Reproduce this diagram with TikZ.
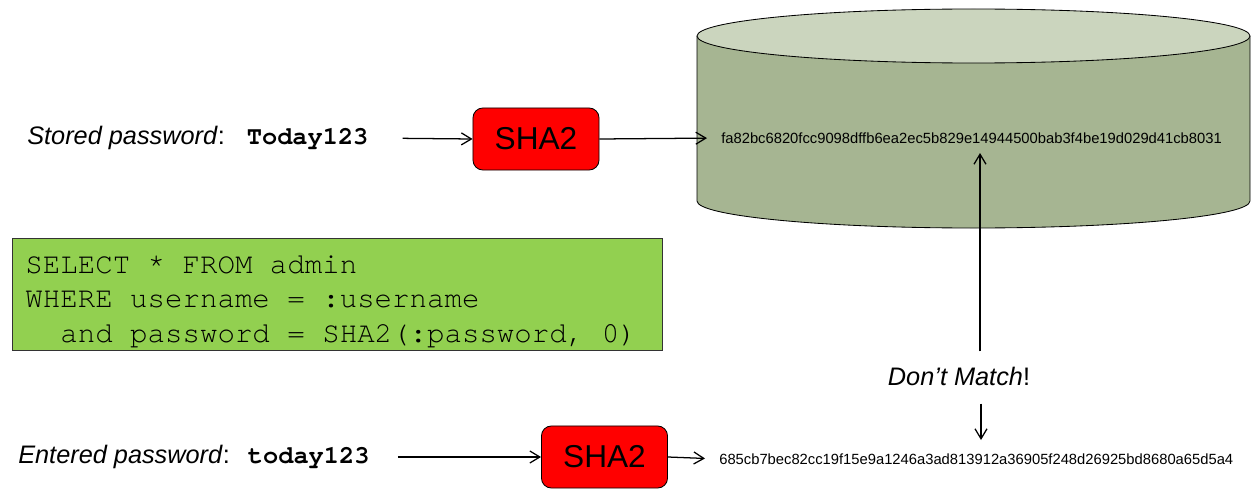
\documentclass[tikz,border=0pt]{standalone}
\usepackage{fontspec}
\setmainfont{Liberation Sans}
\setmonofont{TeX Gyre Cursor}
\usetikzlibrary{arrows.meta}
\definecolor{dbbody}{RGB}{166,181,146}
\definecolor{dbtop}{RGB}{203,213,190}
\definecolor{sqlgreen}{RGB}{146,208,80}
\definecolor{shared}{RGB}{255,0,0}
\newcommand\sqlfont{\ttfamily\fontsize{20.7}{24.5}\selectfont}

\begin{document}
\begin{tikzpicture}[
  x=0.025cm, y=-0.025cm,
  shabox/.style={rectangle, rounded corners=7pt, draw=black, fill=shared, line width=0.6pt,
                 minimum width=3.15cm, minimum height=1.55cm, inner sep=0pt,
                 font=\fontsize{22.5}{26}\selectfont},
  pwlbl/.style={anchor=west, inner sep=0pt, font=\fontsize{18}{21}\selectfont},
  hashtxt/.style={anchor=west, inner sep=0pt, font=\fontsize{10.5}{12}\selectfont},
  sqlbox/.style={rectangle, draw=black!80, fill=sqlgreen, line width=0.6pt, anchor=north west,
                 minimum width=16.25cm, minimum height=2.8cm, text width=15.6cm,
                 inner xsep=0.325cm, inner ysep=0pt, align=left, font=\sqlfont},
  arr/.style={-{Straight Barb[length=2.5mm, width=3mm]}, line width=0.9pt},
]
 \useasboundingbox (0,0) rectangle (1260,499);

 % Database cylinder
 \fill[dbbody] (697,36) -- (697,201)
   arc[start angle=180, end angle=0, x radius=276.5, y radius=27] -- (1250,36) -- cycle;
 \draw[line width=0.6pt] (697,36) -- (697,201)
   arc[start angle=180, end angle=0, x radius=276.5, y radius=27] -- (1250,36);
 \filldraw[fill=dbtop, line width=0.6pt] (973.5,36) ellipse[x radius=276.5, y radius=27];

 % Stored row
 \node[pwlbl] (stored) at (27,138)
   {\textit{Stored password}:\hspace{0.55cm}{\ttfamily\bfseries Today123}};
 \node[shabox] (shaA) at (536,139) {SHA2};
 \node[hashtxt] (hashA) at (721,138)
   {fa82bc6820fcc9098dffb6ea2ec5b829e14944500bab3f4be19d029d41cb8031};

 \draw[arr, shorten <=0.85cm] (stored.east) -- (shaA.west);
 \draw[arr, shorten >=0.35cm] (shaA.east) -- (hashA.west);

 % Query
 \node[sqlbox] (query) at (12,238)
   {\spaceskip=0.6em\relax\xspaceskip=0.6em\relax
    \rule{0pt}{23pt}SELECT * FROM admin\\
    WHERE username = :username\\
    ~~and password = SHA2(:password, 0)};

 % Entered row
 \node[pwlbl] (entered) at (18,457)
   {\textit{Entered password}:\hspace{0.45cm}{\ttfamily\bfseries today123}};
 \node[shabox] (shaB) at (604.5,457) {SHA2};
 \node[hashtxt] (hashB) at (719,459)
   {685cb7bec82cc19f15e9a1246a3ad813912a36905f248d26925bd8680a65d5a4};

 \draw[arr, shorten <=0.7cm] (entered.east) -- (shaB.west);
 \draw[arr, shorten >=0.35cm] (shaB.east) -- (hashB.west);

 % Comparison
 \node[inner sep=0pt, font=\fontsize{18}{21}\selectfont] (match) at (959,376)
   {\textit{Don’t Match}!};
 \coordinate (tipA) at (980,153);
 \coordinate (tipB) at (981,440);
 \draw[arr, shorten <=0.375cm] (match.north -| tipA) -- (tipA);
 \draw[arr, shorten <=0.45cm] (match.south -| tipB) -- (tipB);
\end{tikzpicture}
\end{document}
